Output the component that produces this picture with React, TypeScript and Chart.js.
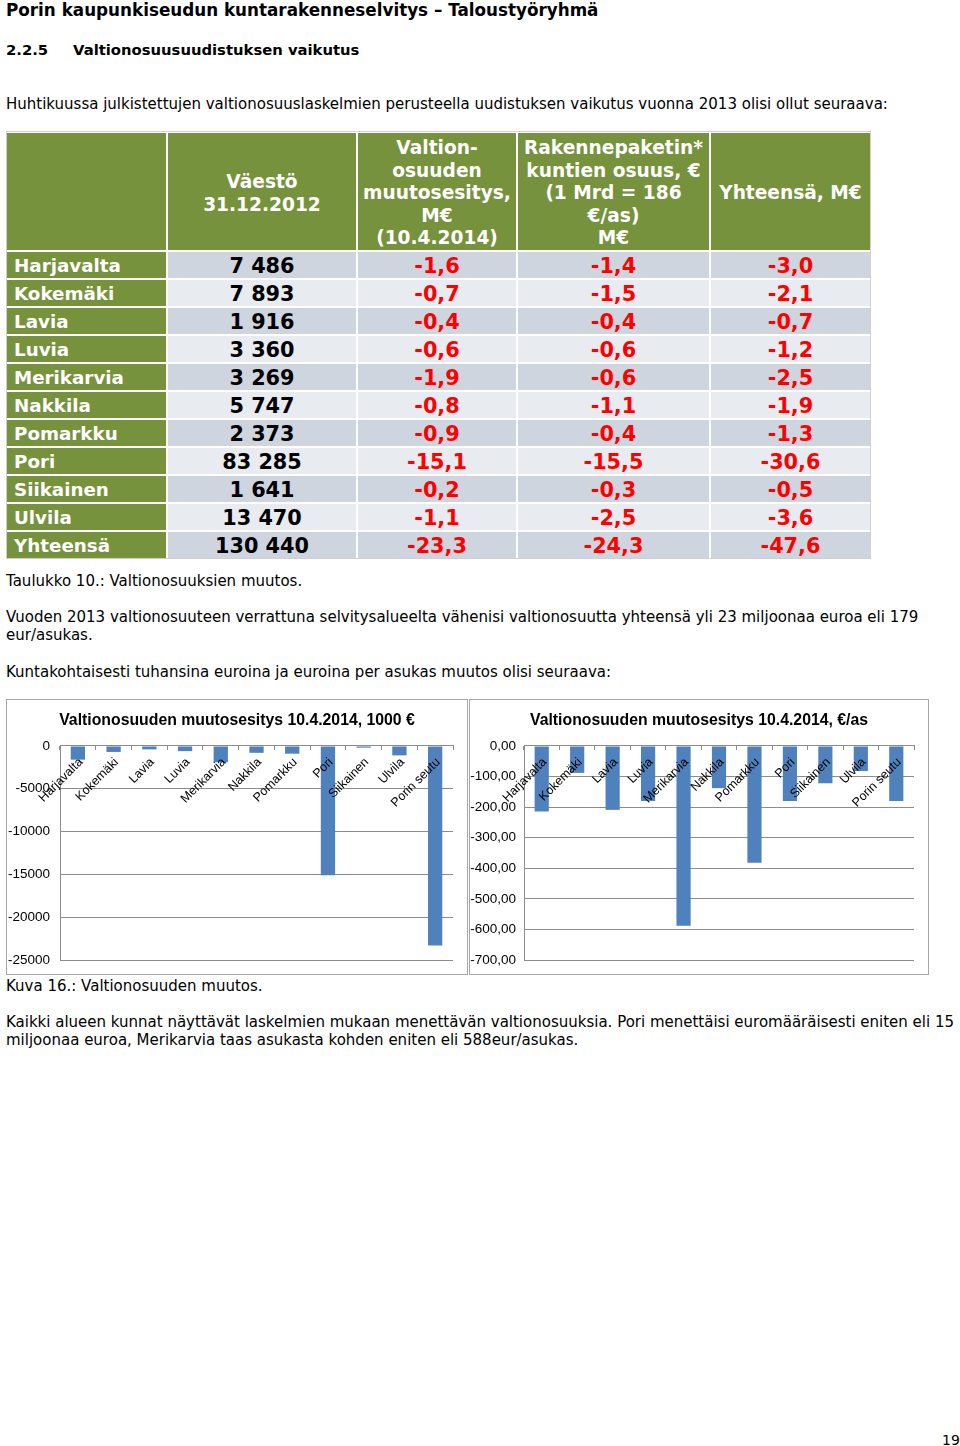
import React, { useEffect, useRef } from "react";
import { Chart, registerables } from "chart.js";

Chart.register(...registerables);

// ---- Table data ----
const municipalities = ["Harjavalta", "Kokemäki", "Lavia", "Luvia", "Merikarvia", "Nakkila", "Pomarkku", "Pori", "Siikainen", "Ulvila", "Yhteensä"];
const population = ["7 486", "7 893", "1 916", "3 360", "3 269", "5 747", "2 373", "83 285", "1 641", "13 470", "130 440"];
const vosChange = ["-1,6", "-0,7", "-0,4", "-0,6", "-1,9", "-0,8", "-0,9", "-15,1", "-0,2", "-1,1", "-23,3"];
const packageShare = ["-1,4", "-1,5", "-0,4", "-0,6", "-0,6", "-1,1", "-0,4", "-15,5", "-0,3", "-2,5", "-24,3"];
const totals = ["-3,0", "-2,1", "-0,7", "-1,2", "-2,5", "-1,9", "-1,3", "-30,6", "-0,5", "-3,6", "-47,6"];

// ---- Chart data ----
const chartCategories = ["Harjavalta", "Kokemäki", "Lavia", "Luvia", "Merikarvia", "Nakkila", "Pomarkku", "Pori", "Siikainen", "Ulvila", "Porin seutu"];
const changeThousandEur = [-1600, -700, -400, -600, -1900, -800, -900, -15100, -200, -1100, -23300];
const changePerResident = [-214, -88, -209, -180, -588, -138, -382, -180, -122, -82, -180];
const ticksThousand = ["0", "-5000", "-10000", "-15000", "-20000", "-25000"];
const ticksPerResident = ["0,00", "-100,00", "-200,00", "-300,00", "-400,00", "-500,00", "-600,00", "-700,00"];

const BODY_FONT = "'DejaVu Sans', Verdana, sans-serif";
const CHART_FONT = "'Liberation Sans', Arial, sans-serif";
const GREEN = "#76923C";
const ROW_DARK = "#CFD5DF";
const ROW_LIGHT = "#E8EBF0";

type BarProps = {
  title: string;
  values: number[];
  min: number;
  step: number;
  tickLabels: string[];
  yWidth: number;
  yPad: number;
  width: number;
  height: number;
};

function BarChart({ title, values, min, step, tickLabels, yWidth, yPad, width, height }: BarProps) {
  const ref = useRef<HTMLCanvasElement>(null);
  useEffect(() => {
    const chart = new Chart(ref.current!, {
      type: "bar",
      data: {
        labels: chartCategories,
        datasets: [
          {
            data: values,
            backgroundColor: "#4F81BD",
            barPercentage: 0.4,
            categoryPercentage: 1,
          },
        ],
      },
      options: {
        animation: false,
        responsive: false,
        layout: { padding: { left: 0, right: 0, top: 0, bottom: 14 } },
        plugins: {
          legend: { display: false },
          tooltip: { enabled: false },
          title: {
            display: true,
            text: title,
            color: "#000",
            font: { family: CHART_FONT, size: 15.8, weight: "bold" },
            padding: { top: 11, bottom: 16 },
          },
        },
        scales: {
          x: {
            position: { y: 0 } as any,
            afterFit: (s: any) => {
              s.height = 0;
              s.paddingLeft = 0;
              s.paddingRight = 14;
              s.paddingTop = 0;
              s.paddingBottom = 0;
            },
            grid: { drawOnChartArea: false, drawTicks: true, tickLength: 4, color: "#8c8c8c", offset: true },
            border: { color: "#8c8c8c", z: 1 },
            ticks: {
              z: 1,
              autoSkip: false,
              maxRotation: 45,
              minRotation: 45,
              padding: 5,
              labelOffset: 3,
              color: "#000",
              font: { family: CHART_FONT, size: 12.5 },
            },
          },
          y: {
            min,
            max: 0,
            afterFit: (s: any) => {
              s.width = yWidth;
              s.paddingTop = 0;
              s.paddingBottom = 0;
            },
            ticks: {
              stepSize: step,
              padding: yPad,
              color: "#000",
              font: { family: CHART_FONT, size: 13.5 },
              callback: (v: any) => tickLabels[Math.round(-Number(v) / step)],
            },
            grid: { color: "#8c8c8c", drawTicks: false },
            border: { color: "#8c8c8c" },
          },
        },
      },
    });
    return () => chart.destroy();
  }, []);
  return <canvas ref={ref} width={width} height={height} style={{ display: "block" }} />;
}

const T = ({ x, y, size = 15, bold = false, children }: any) => (
  <div
    style={{
      position: "absolute",
      left: x,
      top: y,
      fontFamily: BODY_FONT,
      fontSize: size,
      fontWeight: bold ? "bold" : "normal",
      lineHeight: "18px",
      whiteSpace: "nowrap",
      color: "#000",
    }}
  >
    {children}
  </div>
);

const cols = [
  { l: 7, r: 166 },
  { l: 168, r: 356 },
  { l: 358, r: 516 },
  { l: 518, r: 709 },
  { l: 711, r: 870 },
];

const headers = [
  [],
  ["Väestö", "31.12.2012"],
  ["Valtion-", "osuuden", "muutosesitys,", "M€", "(10.4.2014)"],
  ["Rakennepaketin*", "kuntien osuus, €", "(1 Mrd = 186", "€/as)", "M€"],
  ["Yhteensä, M€"],
];

function Table() {
  const cells: any[] = [];
  cols.forEach((c, ci) => {
    cells.push(
      <div
        key={"h" + ci}
        style={{
          position: "absolute",
          left: c.l,
          top: 133,
          width: c.r - c.l,
          height: 117,
          paddingTop: 4,
          boxSizing: "border-box",
          background: GREEN,
          color: "#fff",
          fontFamily: BODY_FONT,
          fontWeight: "bold",
          fontSize: 18.6,
          lineHeight: "22.5px",
          display: "flex",
          flexDirection: "column",
          justifyContent: "center",
          alignItems: "center",
          textAlign: "center",
          whiteSpace: "nowrap",
        }}
      >
        {headers[ci].map((h, i) => (
          <div key={i}>{h}</div>
        ))}
      </div>
    );
  });
  municipalities.forEach((m, ri) => {
    const top = 252 + ri * 28;
    const bg = ri % 2 === 0 ? ROW_DARK : ROW_LIGHT;
    const vals = [m, population[ri], vosChange[ri], packageShare[ri], totals[ri]];
    cols.forEach((c, ci) => {
      cells.push(
        <div
          key={ri + "-" + ci}
          style={{
            position: "absolute",
            left: c.l,
            top,
            width: c.r - c.l,
            height: 26,
            background: ci === 0 ? GREEN : bg,
            color: ci === 0 ? "#fff" : ci === 1 ? "#000" : "#FF0000",
            fontFamily: BODY_FONT,
            fontWeight: "bold",
            fontSize: ci === 0 ? 18.3 : 20.8,
            lineHeight: "28px",
            textAlign: ci === 0 ? "left" : "center",
            paddingLeft: ci === 0 ? 7 : 0,
            boxSizing: "border-box",
            whiteSpace: "nowrap",
            overflow: "hidden",
          }}
        >
          {vals[ci]}
        </div>
      );
    });
  });
  return (
    <>
      <div style={{ position: "absolute", left: 6, top: 131, width: 865, height: 428, border: "1px solid #d0d0d0", boxSizing: "border-box" }} />
      {cells}
    </>
  );
}

export default function App() {
  return (
    <div style={{ position: "absolute", left: 0, top: 0, width: 960, height: 1446, background: "#fff" }}>
      <T x={6} y={1} size={16.8} bold>
        Porin kaupunkiseudun kuntarakenneselvitys – Taloustyöryhmä
      </T>
      <T x={6} y={41} size={14.8} bold>
        2.2.5
      </T>
      <T x={73} y={41} size={14.8} bold>
        Valtionosuusuudistuksen vaikutus
      </T>
      <T x={6} y={95}>
        Huhtikuussa julkistettujen valtionosuuslaskelmien perusteella uudistuksen vaikutus vuonna 2013 olisi ollut seuraava:
      </T>
      <Table />
      <T x={6} y={572}>
        Taulukko 10.: Valtionosuuksien muutos.
      </T>
      <T x={6} y={608}>
        Vuoden 2013 valtionosuuteen verrattuna selvitysalueelta vähenisi valtionosuutta yhteensä yli 23 miljoonaa euroa eli 179
      </T>
      <T x={6} y={626}>
        eur/asukas.
      </T>
      <T x={6} y={663}>
        Kuntakohtaisesti tuhansina euroina ja euroina per asukas muutos olisi seuraava:
      </T>
      <div style={{ position: "absolute", left: 6, top: 699, width: 462, height: 276, border: "1px solid #a6a6a6", boxSizing: "border-box" }}>
        <BarChart
          title="Valtionosuuden muutosesitys 10.4.2014, 1000 €"
          values={changeThousandEur}
          min={-25000}
          step={5000}
          tickLabels={ticksThousand}
          yWidth={53}
          yPad={10}
          width={460}
          height={274}
        />
      </div>
      <div style={{ position: "absolute", left: 469, top: 699, width: 460, height: 276, border: "1px solid #a6a6a6", boxSizing: "border-box" }}>
        <BarChart
          title="Valtionosuuden muutosesitys 10.4.2014, €/as"
          values={changePerResident}
          min={-700}
          step={100}
          tickLabels={ticksPerResident}
          yWidth={54}
          yPad={8}
          width={458}
          height={274}
        />
      </div>
      <T x={6} y={977}>
        Kuva 16.: Valtionosuuden muutos.
      </T>
      <T x={6} y={1013}>
        Kaikki alueen kunnat näyttävät laskelmien mukaan menettävän valtionosuuksia. Pori menettäisi euromääräisesti eniten eli 15
      </T>
      <T x={6} y={1031}>
        miljoonaa euroa, Merikarvia taas asukasta kohden eniten eli 588eur/asukas.
      </T>
      <T x={942} y={1431} size={14}>
        19
      </T>
    </div>
  );
}
